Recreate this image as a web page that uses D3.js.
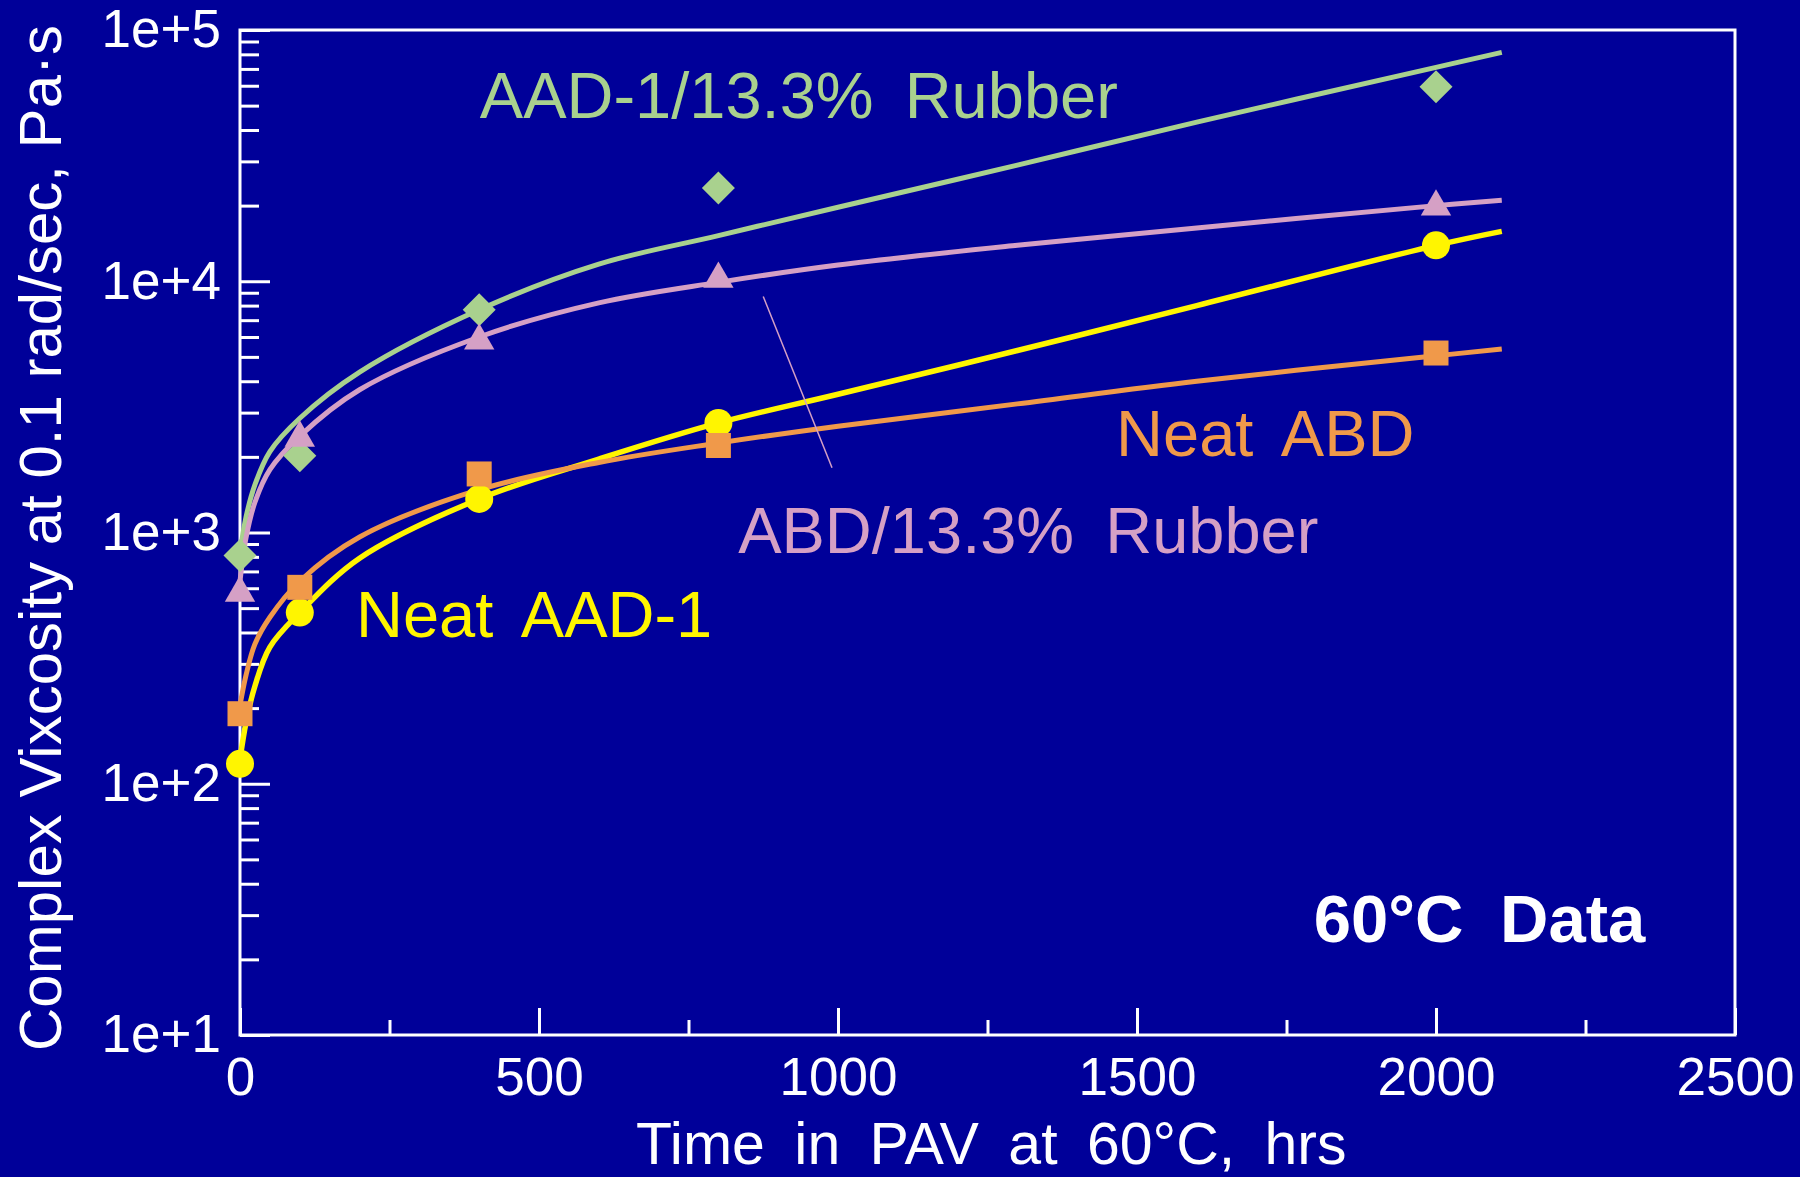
<!DOCTYPE html>
<html>
<head>
<meta charset="utf-8">
<script src="https://cdn.jsdelivr.net/npm/d3@7"></script>
<style>
  body { margin: 0; background: #000099; }
  svg text { font-family: "Liberation Sans", Arial, sans-serif; }
</style>
</head>
<body>
<svg id="chart" width="1800" height="1177"></svg>
<script>
const W = 1800;
const H = 1177;

// measured times (hrs)
const times = [0, 100, 400, 800, 2000];

// marker values, Pa·s
const aadRubber = [810, 2020, 7700, 23500, 59500];
const abdRubber = [575, 2380, 5800, 10200, 19800];
const neatAad = [120, 480, 1360, 2730, 13900];
const neatAbd = [190, 605, 1710, 2220, 5180];

// fitted curves
const curveTimes = [0, 10, 25, 50, 100, 200, 400, 600, 800, 1000, 1300, 1600, 2000, 2110];
const aadRubberFit = [830, 1150, 1550, 2100, 2850, 4350, 7700, 11700, 15200, 19700, 29000, 43000, 71000, 81500];
const abdRubberFit = [640, 950, 1320, 1780, 2420, 3700, 6000, 8200, 9900, 11600, 13900, 16300, 20000, 21000];
const neatAadFit = [125, 175, 245, 350, 480, 790, 1360, 1960, 2730, 3550, 5300, 8000, 13900, 15800];
const neatAbdFit = [205, 270, 360, 460, 640, 960, 1480, 1900, 2270, 2650, 3250, 4000, 5050, 5370];

const xTicks = [0, 500, 1000, 1500, 2000, 2500];
const xMinorTicks = [250, 750, 1250, 1750, 2250];
const yTicks = [10, 100, 1000, 10000, 100000];

const series = [
  { name: "AAD-1/13.3% Rubber", color: "#A9D18E", shape: "diamond", values: aadRubber, fit: aadRubberFit },
  { name: "ABD/13.3% Rubber", color: "#D5A0C5", shape: "triangle", values: abdRubber, fit: abdRubberFit },
  { name: "Neat AAD-1", color: "#FFF500", shape: "circle", values: neatAad, fit: neatAadFit },
  { name: "Neat ABD", color: "#F0994A", shape: "square", values: neatAbd, fit: neatAbdFit }
];

// labels in data coordinates
const labels = [
  { text: "AAD-1/13.3% Rubber", t: 401, v: 44500, color: "#A9D18E" },
  { text: "Neat ABD", t: 1465, v: 2016, color: "#F0994A" },
  { text: "ABD/13.3% Rubber", t: 833, v: 830, color: "#D5A0C5" },
  { text: "Neat AAD-1", t: 194, v: 384, color: "#FFF500" }
];
const pointer = [{ t: 875, v: 8700 }, { t: 990, v: 1810 }];

const margin = { left: 240, right: W - 1735, top: 30, bottom: H - 1035 };

const svg = d3.select("#chart");
svg.append("rect").attr("width", W).attr("height", H).attr("fill", "#000099");

const x = d3.scaleLinear().domain([0, 2500]).range([margin.left, W - margin.right]);
const y = d3.scaleLog().domain([10, 100000]).range([H - margin.bottom, margin.top]);

// y axis - minor ticks
const yMinor = y.ticks().filter(v => !yTicks.includes(v));
svg.append("g")
  .attr("transform", `translate(${margin.left},0)`)
  .call(d3.axisLeft(y).tickValues(yMinor).tickSize(-19).tickFormat(""))
  .call(g => g.select(".domain").remove());

svg.append("g")
  .attr("transform", `translate(${margin.left},0)`)
  .call(d3.axisLeft(y).tickValues(yTicks).tickSize(-30).tickPadding(19).tickFormat(d3.format(".0e")))
  .call(g => g.select(".domain").remove());

// x axis
svg.append("g")
  .attr("transform", `translate(0,${H - margin.bottom})`)
  .call(d3.axisBottom(x).tickValues(xMinorTicks).tickSize(-15).tickFormat(""))
  .call(g => g.select(".domain").remove());

svg.append("g")
  .attr("transform", `translate(0,${H - margin.bottom})`)
  .call(d3.axisBottom(x).tickValues(xTicks).tickSize(-27).tickPadding(22).tickFormat(d3.format("d")))
  .call(g => g.select(".domain").remove());

svg.selectAll(".tick line").attr("stroke", "#fff").attr("stroke-width", 3);
svg.selectAll(".tick text").attr("fill", "#fff").attr("font-size", 53);

// frame
svg.append("rect")
  .attr("x", margin.left)
  .attr("y", margin.top)
  .attr("width", W - margin.left - margin.right)
  .attr("height", H - margin.top - margin.bottom)
  .attr("fill", "none")
  .attr("stroke", "#fff")
  .attr("stroke-width", 3);

// curves
const line = d3.line()
  .x(d => x(d[0]))
  .y(d => y(d[1]))
  .curve(d3.curveCatmullRom.alpha(0.5));

svg.append("g")
  .selectAll("path")
  .data(series)
  .join("path")
  .attr("fill", "none")
  .attr("stroke", d => d.color)
  .attr("stroke-width", d => d.shape === "circle" ? 5.5 : 5)
  .attr("d", d => line(curveTimes.map((t, i) => [t, d.fit[i]])));

// markers
const symbols = {
  diamond: d3.symbol().type(d3.symbolSquare).size(545),
  triangle: d3.symbol().type(d3.symbolTriangle).size(400),
  circle: d3.symbol().type(d3.symbolCircle).size(Math.PI * 14 * 14),
  square: d3.symbol().type(d3.symbolSquare).size(625)
};

series.forEach(s => {
  svg.append("g")
    .selectAll("path")
    .data(times.map((t, i) => ({ t, v: s.values[i] })))
    .join("path")
    .attr("fill", s.color)
    .attr("transform", d => `translate(${x(d.t)},${y(d.v)})` + (s.shape === "diamond" ? " rotate(45)" : ""))
    .attr("d", symbols[s.shape]());
});

// pointer from label to curve
svg.append("line")
  .attr("x1", x(pointer[0].t)).attr("y1", y(pointer[0].v))
  .attr("x2", x(pointer[1].t)).attr("y2", y(pointer[1].v))
  .attr("stroke", "#D5A0C5")
  .attr("stroke-width", 1.5);

svg.append("g")
  .selectAll("text")
  .data(labels)
  .join("text")
  .attr("x", d => x(d.t))
  .attr("y", d => y(d.v))
  .attr("fill", d => d.color)
  .attr("font-size", 65)
  .attr("word-spacing", 13)
  .text(d => d.text);

svg.append("text")
  .attr("x", x(2350))
  .attr("y", y(23.4))
  .attr("text-anchor", "end")
  .attr("fill", "#fff")
  .attr("font-size", 67)
  .attr("font-weight", "bold")
  .attr("word-spacing", 18)
  .text("60°C Data");

// axis titles
svg.append("text")
  .attr("x", 636)
  .attr("y", 1164)
  .attr("fill", "#fff")
  .attr("font-size", 59)
  .attr("word-spacing", 13)
  .text("Time in PAV at 60°C, hrs");

svg.append("text")
  .attr("transform", "translate(61,538) rotate(-90)")
  .attr("text-anchor", "middle")
  .attr("fill", "#fff")
  .attr("font-size", 60)
  .text("Complex Vixcosity at 0.1 rad/sec, Pa·s");
</script>
</body>
</html>
